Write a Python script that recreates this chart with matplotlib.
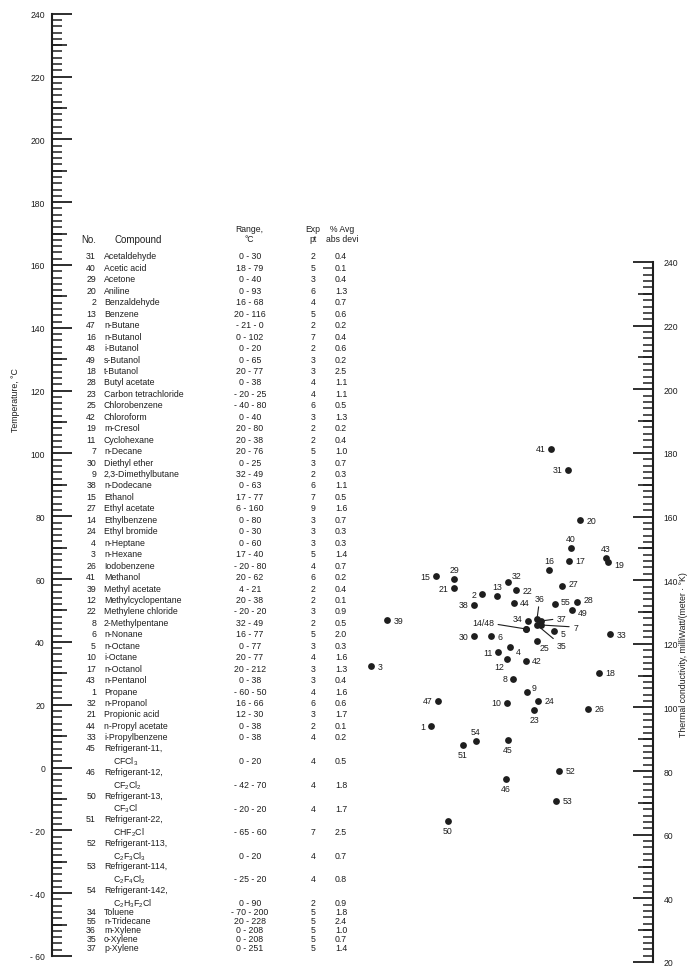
import numpy as np
import matplotlib
matplotlib.use("Agg")
import matplotlib.pyplot as plt
from matplotlib.ticker import MultipleLocator, FixedLocator, FuncFormatter, NullFormatter

plt.rcParams['font.family'] = ['Liberation Sans', 'DejaVu Sans']
plt.rcParams['mathtext.fontset'] = 'custom'
plt.rcParams['mathtext.rm'] = 'Liberation Sans'
plt.rcParams['mathtext.it'] = 'Liberation Sans:italic'
plt.rcParams['mathtext.bf'] = 'Liberation Sans:bold'

INK = '#1e1e1e'
W, H = 689, 970

# ---- table data ----
nos = [31, 40, 29, 20, 2, 13, 47, 16, 48, 49, 18, 28, 23, 25, 42, 19, 11, 7, 30, 9,
       38, 15, 27, 14, 24, 4, 3, 26, 41, 39, 12, 22, 8, 6, 5, 10, 17, 43, 1, 32,
       21, 44, 33, 45, 46, 50, 51, 52, 53, 54, 34, 55, 36, 35, 37]
compounds = ["Acetaldehyde", "Acetic acid", "Acetone", "Aniline", "Benzaldehyde",
             "Benzene", "n-Butane", "n-Butanol", "i-Butanol", "s-Butanol", "t-Butanol",
             "Butyl acetate", "Carbon tetrachloride", "Chlorobenzene", "Chloroform",
             "m-Cresol", "Cyclohexane", "n-Decane", "Diethyl ether", "2,3-Dimethylbutane",
             "n-Dodecane", "Ethanol", "Ethyl acetate", "Ethylbenzene", "Ethyl bromide",
             "n-Heptane", "n-Hexane", "Iodobenzene", "Methanol", "Methyl acetate",
             "Methylcyclopentane", "Methylene chloride", "2-Methylpentane", "n-Nonane",
             "n-Octane", "i-Octane", "n-Octanol", "n-Pentanol", "Propane", "n-Propanol",
             "Propionic acid", "n-Propyl acetate", "i-Propylbenzene",
             "Refrigerant-11,", "Refrigerant-12,", "Refrigerant-13,", "Refrigerant-22,",
             "Refrigerant-113,", "Refrigerant-114,", "Refrigerant-142,",
             "Toluene", "n-Tridecane", "m-Xylene", "o-Xylene", "p-Xylene"]
formulas = {45: r"CFCl$_3$", 46: r"CF$_2$Cl$_2$", 50: r"CF$_3$Cl", 51: r"CHF$_2$Cl",
            52: r"C$_2$F$_3$Cl$_3$", 53: r"C$_2$F$_4$Cl$_2$", 54: r"C$_2$H$_3$F$_2$Cl"}
range_lo = [0, 18, 0, 0, 16, 20, -21, 0, 0, 0, 20, 0, -20, -40, 0, 20, 20, 20, 0, 32,
            0, 17, 6, 0, 0, 0, 17, -20, 20, 4, 20, -20, 32, 16, 0, 20, 20, 0, -60, 16,
            12, 0, 0, 0, -42, -20, -65, 0, -25, 0, -70, 20, 0, 0, 0]
range_hi = [30, 79, 40, 93, 68, 116, 0, 102, 20, 65, 77, 38, 25, 80, 40, 80, 38, 76, 25, 49,
            63, 77, 160, 80, 30, 60, 40, 80, 62, 21, 38, 20, 49, 77, 77, 77, 212, 38, 50, 66,
            30, 38, 38, 20, 70, 20, 60, 20, 20, 90, 200, 228, 208, 208, 251]
exp_pts = [2, 5, 3, 6, 4, 5, 2, 7, 2, 3, 3, 4, 4, 6, 3, 2, 2, 5, 3, 2,
           6, 7, 9, 3, 3, 3, 5, 4, 6, 2, 2, 3, 2, 5, 3, 4, 3, 3, 4, 6,
           3, 2, 4, 4, 4, 4, 7, 4, 4, 2, 5, 5, 5, 5, 5]
avg_dev = [0.4, 0.1, 0.4, 1.3, 0.7, 0.6, 0.2, 0.4, 0.6, 0.2, 2.5, 1.1, 1.1, 0.5, 1.3, 0.2,
           0.4, 1.0, 0.7, 0.3, 1.1, 0.5, 1.6, 0.7, 0.3, 0.3, 1.4, 0.7, 0.2, 0.4, 0.1, 0.9,
           0.5, 2.0, 0.3, 1.6, 1.3, 0.4, 1.6, 0.6, 1.7, 0.1, 0.2, 0.5, 1.8, 1.7, 2.5, 0.7,
           0.8, 0.9, 1.8, 2.4, 1.0, 0.7, 1.4]

# ---- nomograph points (grid X, Y) ----
pt_no = [41, 31, 20, 40, 43, 19, 16, 17, 29, 15, 21, 32, 27, 13, 22, 2, 38, 44, 55, 28,
         49, 34, 14, 48, 36, 37, 7, 35, 5, 25, 30, 6, 33, 39, 4, 11, 12, 42, 3, 18,
         8, 9, 47, 10, 24, 23, 26, 1, 54, 51, 45, 52, 46, 53, 50]
pt_x = [21.1, 22.8, 24.0, 23.1, 26.6, 26.8, 20.9, 22.9, 11.4, 9.6, 11.4, 16.8, 22.2, 15.7,
        17.6, 14.2, 13.4, 17.4, 21.5, 23.7, 23.2, 18.8, 18.6, 18.6, 19.7, 20.1, 20.1, 19.7,
        21.4, 19.7, 13.4, 15.1, 27.0, 4.7, 17.0, 15.8, 16.7, 18.6, 3.1, 25.9, 17.3, 18.7,
        9.8, 16.7, 19.8, 19.4, 24.8, 9.1, 13.6, 12.3, 16.8, 21.9, 16.6, 21.6, 10.8]
pt_y = [42.0, 39.9, 34.9, 32.1, 31.1, 30.7, 29.9, 30.8, 29.0, 29.3, 28.1, 28.7, 28.3, 27.3,
        27.9, 27.5, 26.4, 26.6, 26.5, 26.7, 25.9, 24.8, 24.0, 24.0, 25.0, 24.8, 24.4, 24.4,
        23.8, 22.8, 23.3, 23.3, 23.5, 24.9, 22.2, 21.7, 21.0, 20.8, 20.3, 19.6, 19.0, 17.7,
        16.8, 16.6, 16.8, 15.9, 16.0, 14.3, 12.8, 12.4, 12.9, 9.8, 9.0, 6.8, 4.8]

# label placement: (dx pt, dy pt, ha)
L, R, A, B = (-4, 0, 'right'), (4.5, 0, 'left'), (0, 7, 'center'), (0, -7, 'center')
lab_pos = {41: L, 31: L, 20: R, 40: A, 43: A, 19: (4.5, -1.5, 'left'), 16: A, 17: R,
           29: A, 15: L, 21: L, 32: (3, 5, 'left'), 27: (4.5, 2, 'left'), 13: A, 22: R,
           2: L, 38: L, 44: R, 55: (4, 2, 'left'), 28: (4.5, 2, 'left'),
           49: (4.5, -2, 'left'), 34: (-4, 1.5, 'right'), 5: (4.5, -1.5, 'left'),
           25: (2, -5, 'left'), 30: L, 6: R, 33: R, 39: R, 4: (4, -3, 'left'), 11: L,
           12: (-2, -5.5, 'right'), 42: R, 3: R, 18: R, 8: L, 9: (3, 3, 'left'), 47: L,
           10: L, 24: R, 23: B, 26: R, 1: L, 54: A, 51: B, 45: B, 52: R, 46: B, 53: R, 50: B}
# labels with leader lines: text, anchor point, offset (pt)
leaders = [("14/48", 14, (-31, 5)), ("36", 36, (2, 15)), ("37", 37, (15, 2)),
           ("7", 7, (25, -1.5)), ("35", 35, (18, -15))]


def px_rect(x0, y0, x1, y1):
    return [x0 / W, 1 - y1 / H, (x1 - x0) / W, (y1 - y0) / H]


def neg_fmt(v, p):
    v = int(round(v))
    return f"- {abs(v)}" if v < 0 else f"{v}"


def fmt_range(lo, hi):
    a = f"- {abs(lo)}" if lo < 0 else str(lo)
    return f"{a} - {hi}"


fig = plt.figure(figsize=(W / 100, H / 100), dpi=100)

# canvas for the table and free text
cv = fig.add_axes([0, 0, 1, 1])
cv.set_xlim(0, W)
cv.set_ylim(H, 0)
cv.axis('off')


def scale_axes(rect, lo, hi, side):
    ax = fig.add_axes(rect)
    ax.set_ylim(lo, hi)
    ax.set_xticks([])
    ax.patch.set_visible(False)
    for s in ['top', 'bottom', 'left', 'right']:
        ax.spines[s].set_visible(s == side)
    ax.spines[side].set_linewidth(1.5)
    ax.spines[side].set_color(INK)
    if side == 'right':
        ax.yaxis.tick_right()
    ax.yaxis.set_major_locator(MultipleLocator(20))
    ax.yaxis.set_minor_locator(MultipleLocator(2))
    ax.yaxis.set_major_formatter(FuncFormatter(neg_fmt))
    ax.tick_params(axis='y', which='major', direction='in', length=14.5, width=1.3,
                   labelsize=6.2, pad=5 if side == 'left' else 7.5, colors=INK)
    ax.tick_params(axis='y', which='minor', direction='in', length=7.5, width=1.1, colors=INK)
    # ticks at the odd tens
    ax10 = fig.add_axes(rect)
    ax10.set_ylim(lo, hi)
    ax10.set_frame_on(False)
    ax10.set_xticks([])
    ax10.patch.set_visible(False)
    if side == 'right':
        ax10.yaxis.tick_right()
    ax10.yaxis.set_major_locator(FixedLocator(np.arange(lo + 10, hi, 20)))
    ax10.yaxis.set_major_formatter(NullFormatter())
    ax10.tick_params(axis='y', direction='in', length=10.5, width=1.2, colors=INK)
    return ax


# ---- temperature and conductivity scales ----
scale_axes(px_rect(52, 14.7, 100, 957), -60, 240, 'left')
scale_axes(px_rect(600, 263, 653, 963), 20, 240, 'right')

cv.text(16, 400, "Temperature, °C", rotation=90, ha='center', va='center',
        fontsize=6.3, color=INK)
cv.text(683, 655, "Thermal conductivity, milliWatt/(meter · °K)", rotation=90,
        ha='center', va='center', fontsize=6.3, color=INK)

# ---- table ----
hdr_fs, fs = 6.2, 6.3
cv.text(89, 240, "No.", ha='center', va='center', fontsize=7, color=INK)
cv.text(138, 240, "Compound", ha='center', va='center', fontsize=7, color=INK)
cv.text(249, 229, "Range,", ha='center', va='center', fontsize=hdr_fs, color=INK)
cv.text(249, 240, "°C", ha='center', va='center', fontsize=hdr_fs, color=INK)
cv.text(313, 229, "Exp", ha='center', va='center', fontsize=hdr_fs, color=INK)
cv.text(313, 240, "pt", ha='center', va='center', fontsize=hdr_fs, color=INK)
cv.text(342, 229, "% Avg", ha='center', va='center', fontsize=hdr_fs, color=INK)
cv.text(342, 240, "abs devi", ha='center', va='center', fontsize=hdr_fs, color=INK)

# row baselines: single rows, two-line refrigerant rows, then a tighter tail
n_single = nos.index(45)
n_refr = len(formulas)
row_y = []
for i in range(len(nos)):
    if i < n_single:
        row_y.append(257 + 11.45 * i)
    elif i < n_single + n_refr:
        row_y.append(749 + 23.6 * (i - n_single))
    else:
        row_y.append(913 + 8.8 * (i - n_single - n_refr))

for i, n in enumerate(nos):
    y_name = row_y[i]
    y_val = y_name + 13 if n in formulas else y_name
    if n in formulas:
        cv.text(113, y_val, formulas[n], ha='left', va='center', fontsize=fs, color=INK)
    cv.text(96, y_name, str(n), ha='right', va='center', fontsize=fs, color=INK)
    cv.text(104, y_name, compounds[i], ha='left', va='center', fontsize=fs, color=INK)
    cv.text(250, y_val, fmt_range(range_lo[i], range_hi[i]), ha='center', va='center',
            fontsize=fs, color=INK)
    cv.text(313, y_val, str(exp_pts[i]), ha='center', va='center', fontsize=fs, color=INK)
    cv.text(341, y_val, f"{avg_dev[i]:.1f}", ha='center', va='center', fontsize=fs, color=INK)

# ---- nomograph points ----
ax = fig.add_axes(px_rect(340, 420, 640, 870))
ax.set_xlim(0, 30)
ax.set_ylim(0, 45)
ax.axis('off')
ax.patch.set_visible(False)
ax.scatter(pt_x, pt_y, s=24, color=INK, zorder=3, linewidths=0)

pos = dict(zip(pt_no, zip(pt_x, pt_y)))
for n, (dx, dy, ha) in lab_pos.items():
    ax.annotate(str(n), pos[n], xytext=(dx, dy), textcoords='offset points',
                ha=ha, va='center', fontsize=6.3, color=INK)
for txt, n, (dx, dy) in leaders:
    ax.annotate(txt, pos[n], xytext=(dx, dy), textcoords='offset points',
                ha='center', va='center', fontsize=6.3, color=INK,
                arrowprops=dict(arrowstyle='-', lw=0.8, color=INK, shrinkA=1, shrinkB=1))

fig.savefig("out.png", dpi=100, facecolor='white')
